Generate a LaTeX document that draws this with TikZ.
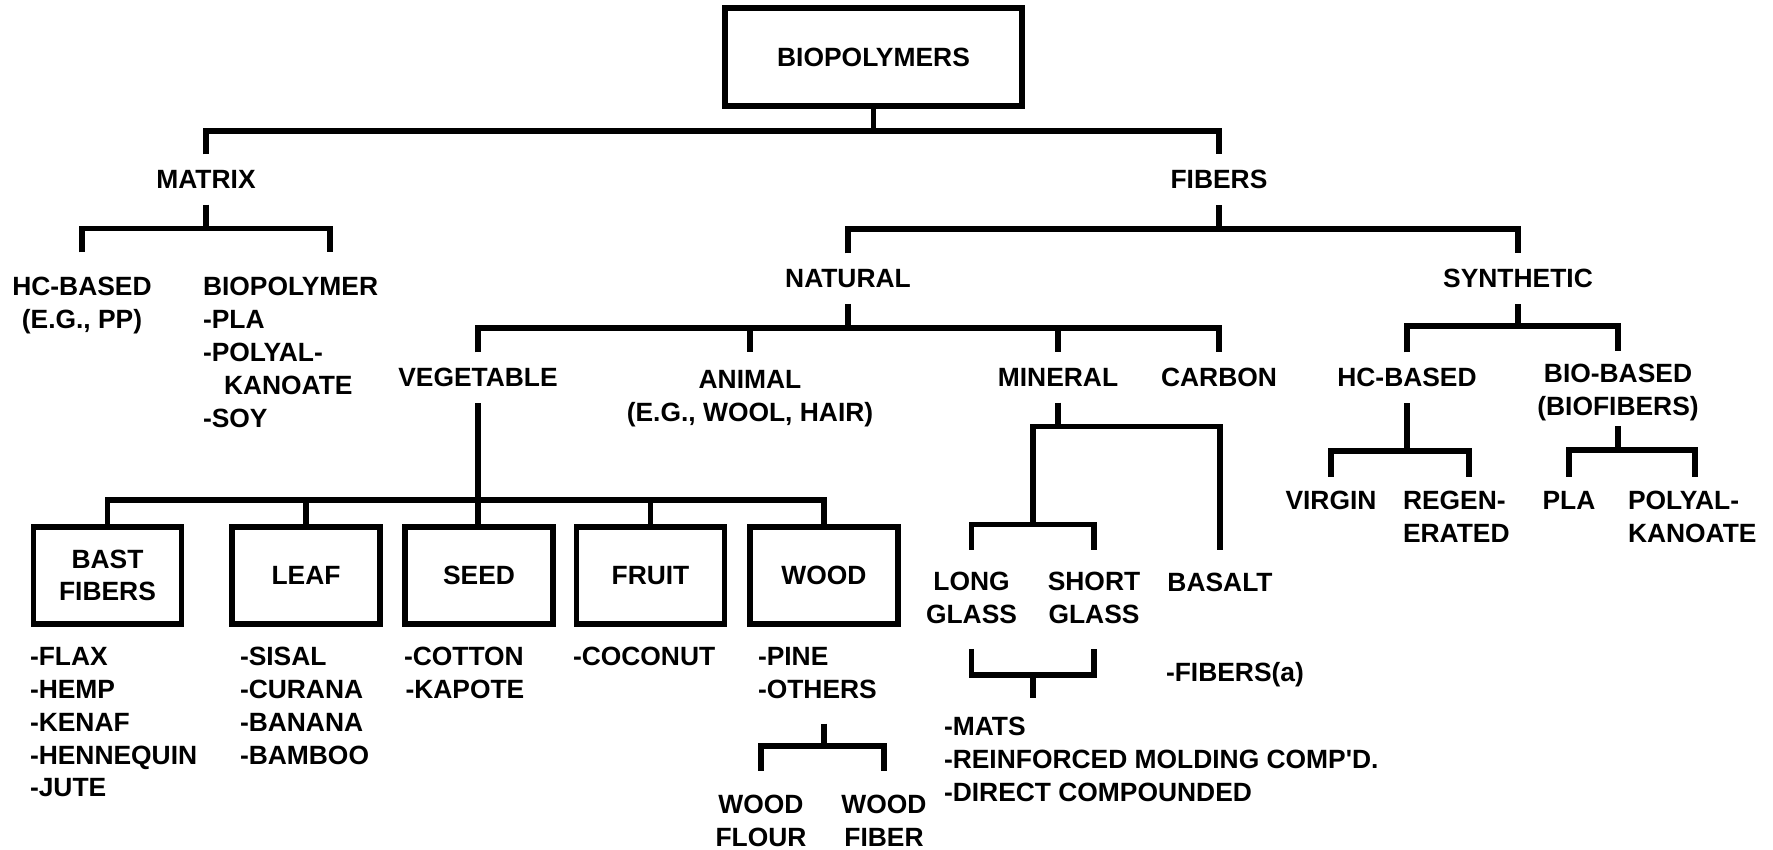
\documentclass[tikz,border=0pt]{standalone}
\usepackage{fontspec}
\setmainfont{Liberation Sans}
\usetikzlibrary{calc}
\begin{document}
\begin{tikzpicture}[x=1pt, y=-1pt,
  link/.style={line width=5.6pt},
  tag/.style={font=\fontsize{26.4}{32.8}\selectfont\bfseries, inner sep=0pt, outer sep=0pt,
    anchor=north, yshift=9.5pt, align=center},
  list/.style={tag, anchor=north west, align=left},
  box/.style={draw, line width=5.6pt, font=\fontsize{26.4}{32.8}\selectfont\bfseries,
    align=center, inner sep=0pt, minimum width=148pt, minimum height=97.4pt}]
\fill[white] (0,0) rectangle (1773,850);
\useasboundingbox (0,0) rectangle (1773,850);

% upper levels
\node[box, minimum width=297.4pt, minimum height=98.4pt] (root) at (873.5,57) {BIOPOLYMERS};
\node[tag] (matrix) at (206,180) {MATRIX};
\node[tag] (fibers) at (1219,180) {FIBERS};
\node[tag] (hcm) at (82,287) {HC-BASED\\(E.G., PP)};
\node[list] (biom) at (203,287) {BIOPOLYMER\\-PLA\\-POLYAL-\\\hspace*{21pt}KANOATE\\-SOY};
\node[tag] (natural) at (848,279) {NATURAL};
\node[tag] (synthetic) at (1518,279) {SYNTHETIC};
\node[tag] (veg) at (478,378) {VEGETABLE};
\node[tag] (animal) at (750,380) {ANIMAL\\(E.G., WOOL, HAIR)};
\node[tag] (mineral) at (1058,378) {MINERAL};
\node[tag] (carbon) at (1219,378) {CARBON};
\node[tag] (hcs) at (1407,378) {HC-BASED};
\node[tag] (bios) at (1618,374) {BIO-BASED\\(BIOFIBERS)};
\node[tag] (virgin) at (1331,501) {VIRGIN};
\node[list] (regen) at (1403,501) {REGEN-\\ERATED};
\node[tag] (pla) at (1569,501) {PLA};
\node[list] (polyal) at (1628,501) {POLYAL-\\KANOATE};

% vegetable fibers
\node[box] (bast) at (107.5,575.5) {BAST\\FIBERS};
\node[box] (leaf) at (306,575.5) {LEAF};
\node[box] (seed) at (479,575.5) {SEED};
\node[box] (fruit) at (650.5,575.5) {FRUIT};
\node[box] (wood) at (824,575.5) {WOOD};
\node[list] (bastl) at (30,657) {-FLAX\\-HEMP\\-KENAF\\-HENNEQUIN\\-JUTE};
\node[list] (leafl) at (240,657) {-SISAL\\-CURANA\\-BANANA\\-BAMBOO};
\node[list] (seedl) at (404,657) {-COTTON\\\hspace*{1.5pt}-KAPOTE};
\node[list] (fruitl) at (573,657) {-COCONUT};
\node[list] (woodl) at (758,657) {-PINE\\-OTHERS};
\node[tag] (flour) at (761,805) {WOOD\\FLOUR};
\node[tag] (fiber) at (884,805) {WOOD\\FIBER};

% mineral fibers
\node[tag] (longg) at (971.5,582) {LONG\\GLASS};
\node[tag] (shortg) at (1094,582) {SHORT\\GLASS};
\node[tag] (basalt) at (1220,583) {BASALT};
\node[list] (fibera) at (1166,672) {-FIBERS(a)};
\node[list] (mats) at (944,727) {-MATS\\-REINFORCED MOLDING COMP\textquotesingle D.\\-DIRECT COMPOUNDED};

% root
\coordinate (b0) at ([yshift=-22pt]root.south);
\draw[link] (root.south) -- (b0);
\draw[link, shorten <=16pt, shorten >=16pt] (matrix.north) |- (b0) -| (fibers.north);
% matrix
\coordinate (b1) at ([yshift=-40pt]matrix.south);
\draw[link, shorten <=16pt] (matrix.south) -- (b1);
\draw[link, shorten <=25pt, shorten >=25pt] (hcm.north) |- (b1) -| ([xshift=127pt]biom.north west);
% fibers
\coordinate (b2) at ([yshift=-40pt]fibers.south);
\draw[link, shorten <=16pt] (fibers.south) -- (b2);
\draw[link, shorten <=16pt, shorten >=16pt] (natural.north) |- (b2) -| (synthetic.north);
% natural
\coordinate (b3) at ([yshift=-40pt]natural.south);
\draw[link, shorten <=16pt] (natural.south) -- (b3);
\draw[link, shorten <=16pt, shorten >=16pt] (veg.north) |- (b3) -| (carbon.north);
\draw[link, shorten >=18pt] (b3 -| animal.north) -- (animal.north);
\draw[link, shorten >=16pt] (b3 -| mineral.north) -- (mineral.north);
% vegetable
\draw[link, shorten <=16pt] (veg.south) -- (veg.south |- seed.north);
\coordinate (b5) at ([yshift=24pt]seed.north);
\draw[link] (bast.north) |- (b5) -| (wood.north);
\draw[link] (b5 -| leaf.north) -- (leaf.north);
\draw[link] (b5 -| fruit.north) -- (fruit.north);
% wood
\coordinate (b11) at ($(wood.south |- woodl.south)+(0,47)$);
\draw[link, shorten <=25pt] (wood.south |- woodl.south) -- (b11);
\draw[link, shorten <=25pt, shorten >=25pt] (flour.north) |- (b11) -| (fiber.north);
% mineral
\coordinate (b6) at ([yshift=-40pt]mineral.south);
\draw[link, shorten <=16pt] (mineral.south) -- (b6);
\coordinate (b7) at ($(longg.north)!0.5!(shortg.north)+(0,-48)$);
\draw[link, shorten >=24pt] (b7) |- (b6) -| (basalt.north);
\draw[link, shorten <=23pt, shorten >=23pt] (longg.north) |- (b7) -| (shortg.north);
\coordinate (b8) at ($(longg.south)!0.5!(shortg.south)+(0,51)$);
\draw[link, shorten <=25pt, shorten >=25pt] (longg.south) |- (b8) -| (shortg.south);
\draw[link, shorten >=20pt] (b8) -- (b8 |- mats.north);
% synthetic
\coordinate (b4) at ([yshift=-38pt]synthetic.south);
\draw[link, shorten <=16pt] (synthetic.south) -- (b4);
\draw[link, shorten <=16pt, shorten >=13pt] (hcs.north) |- (b4) -| (bios.north);
% hc-based
\coordinate (b9) at ([yshift=-64pt]hcs.south);
\draw[link, shorten <=16pt] (hcs.south) -- (b9);
\draw[link, shorten <=15pt, shorten >=15pt] (virgin.north) |- (b9) -| ([xshift=66pt]regen.north west);
% bio-based
\coordinate (b10) at ([yshift=-29pt]bios.south);
\draw[link, shorten <=5pt] (bios.south) -- (b10);
\draw[link, shorten <=15pt, shorten >=15pt] (pla.north) |- (b10) -| ([xshift=67pt]polyal.north west);
\end{tikzpicture}
\end{document}
